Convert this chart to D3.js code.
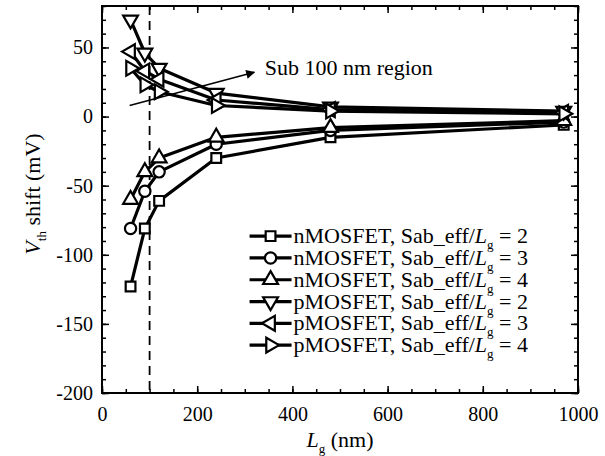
<!DOCTYPE html>
<html>
<head>
<meta charset="utf-8">
<script src="https://cdn.jsdelivr.net/npm/d3@7"></script>
<style>
  body { margin: 0; background: #fff; }
  svg text { font-family: "Liberation Serif", "Times New Roman", serif !important; fill: #000; }
</style>
</head>
<body>
<div id="chart"></div>
<script>
const lengths = [60, 90, 120, 240, 480, 970];
const seriesNames = ['nMOSFET', 'nMOSFET', 'nMOSFET', 'pMOSFET', 'pMOSFET', 'pMOSFET'];
const seriesRatios = [2, 3, 4, 2, 3, 4];
const nRatio2 = [-123, -81, -61, -30, -15, -6];
const nRatio3 = [-81, -54, -40, -20, -10, -4];
const nRatio4 = [-60, -40, -30, -15, -8, -3];
const pRatio2 = [70, 46, 35, 17, 7, 4];
const pRatio3 = [47, 33, 27, 12, 5, 3];
const pRatio4 = [35, 23, 18, 8, 4, 2];
const xTickLabels = [0, 200, 400, 600, 800, 1000];
const yTickLabels = [-200, -150, -100, -50, 0, 50];

let
  width = 605,
  height = 456,
  margin = {left: 102, top: 6, right: 27, bottom: 63},
  w = width - margin.left - margin.right,
  h = height - margin.top - margin.bottom
;

let series = [nRatio2, nRatio3, nRatio4, pRatio2, pRatio3, pRatio4];
// shape + rotation for each series marker
let markers = [
  {type: d3.symbolSquare, size: 95, rot: 0},
  {type: d3.symbolCircle, size: 100, rot: 0},
  {type: d3.symbolTriangle, size: 95, rot: 0},
  {type: d3.symbolTriangle, size: 95, rot: 180},
  {type: d3.symbolTriangle, size: 95, rot: -90},
  {type: d3.symbolTriangle, size: 95, rot: 90}
];

let svg = d3.select('#chart').append('svg')
  .attr('width', width)
  .attr('height', height);

let g = svg.append('g').attr('transform', `translate(${margin.left},${margin.top})`);

let x = d3.scaleLinear().domain([0, 1000]).range([0, w]);
let y = d3.scaleLinear().domain([-200, 80]).range([h, 0]);

/*axes*/
let xMinor = d3.range(0, 1001, 50);
let yMinor = d3.range(-200, 81, 10);

let axisStyle = (sel) => {
  sel.select('.domain').remove();
  sel.selectAll('line').attr('stroke', '#000').attr('stroke-width', 1.5);
};

g.append('g').attr('transform', `translate(0,${h})`)
  .call(d3.axisBottom(x).tickValues(xMinor).tickSize(-4).tickFormat(''))
  .call(axisStyle);
g.append('g').attr('transform', `translate(0,${h})`)
  .call(d3.axisBottom(x).tickValues(xTickLabels).tickSize(-7).tickPadding(14).tickFormat(d => d))
  .call(axisStyle)
  .selectAll('text').style('font-size', '20px');
g.append('g')
  .call(d3.axisTop(x).tickValues(xMinor).tickSize(-4).tickFormat(''))
  .call(axisStyle);
g.append('g')
  .call(d3.axisTop(x).tickValues(xTickLabels).tickSize(-7).tickFormat(''))
  .call(axisStyle);

g.append('g')
  .call(d3.axisLeft(y).tickValues(yMinor).tickSize(-4).tickFormat(''))
  .call(axisStyle);
g.append('g')
  .call(d3.axisLeft(y).tickValues(yTickLabels).tickSize(-7).tickPadding(9).tickFormat(d => d))
  .call(axisStyle)
  .selectAll('text').style('font-size', '20px');
g.append('g').attr('transform', `translate(${w},0)`)
  .call(d3.axisRight(y).tickValues(yMinor).tickSize(-4).tickFormat(''))
  .call(axisStyle);
g.append('g').attr('transform', `translate(${w},0)`)
  .call(d3.axisRight(y).tickValues(yTickLabels).tickSize(-7).tickFormat(''))
  .call(axisStyle);

g.append('rect')
  .attr('width', w).attr('height', h)
  .attr('fill', 'none').attr('stroke', '#000').attr('stroke-width', 2);

/*dashed line at 100 nm*/
g.append('line')
  .attr('x1', x(100)).attr('x2', x(100))
  .attr('y1', 0).attr('y2', h)
  .attr('stroke', '#000').attr('stroke-width', 1.8)
  .attr('stroke-dasharray', '9,6');

/*series*/
let line = d3.line().x((d, i) => x(lengths[i])).y(d => y(d));

series.forEach((vals, k) => {
  g.append('path')
    .datum(vals)
    .attr('d', line)
    .attr('fill', 'none')
    .attr('stroke', '#000')
    .attr('stroke-width', 3.2)
    .attr('stroke-linejoin', 'round');
});

series.forEach((vals, k) => {
  let m = markers[k];
  g.selectAll(null)
    .data(vals)
    .enter()
    .append('path')
    .attr('d', d3.symbol().type(m.type).size(m.size))
    .attr('transform', (d, i) => `translate(${x(lengths[i])},${y(d)}) rotate(${m.rot})`)
    .attr('fill', '#fff')
    .attr('stroke', '#000')
    .attr('stroke-width', 2.2);
});

/*arrow annotation*/
svg.append('defs').append('marker')
  .attr('id', 'head')
  .attr('viewBox', '0 0 10 10')
  .attr('refX', 9).attr('refY', 5)
  .attr('markerWidth', 12).attr('markerHeight', 9)
  .attr('markerUnits', 'userSpaceOnUse')
  .attr('orient', 'auto')
  .append('path')
  .attr('d', 'M0,0 L10,5 L0,10 Z')
  .attr('fill', '#000');

g.append('line')
  .attr('x1', x(58)).attr('y1', y(8))
  .attr('x2', x(320)).attr('y2', y(32))
  .attr('stroke', '#000').attr('stroke-width', 1.5)
  .attr('marker-end', 'url(#head)');

g.append('text')
  .attr('x', x(342)).attr('y', y(30))
  .style('font-size', '22px')
  .text('Sub 100 nm region');

/*legend*/
let legend = g.append('g').attr('transform', `translate(${x(310)},${y(-86.5)})`);
let rowH = 21.8;

seriesNames.forEach((name, k) => {
  let m = markers[k];
  let row = legend.append('g').attr('transform', `translate(0,${k * rowH})`);
  row.append('line')
    .attr('x1', 0).attr('x2', 42)
    .attr('stroke', '#000').attr('stroke-width', 3.2);
  row.append('path')
    .attr('d', d3.symbol().type(m.type).size(m.size))
    .attr('transform', `translate(21,0) rotate(${m.rot})`)
    .attr('fill', '#fff').attr('stroke', '#000').attr('stroke-width', 2.2);
  let t = row.append('text')
    .attr('x', 44).attr('y', 7)
    .style('font-size', '22px');
  t.append('tspan').text(`${name}, Sab_eff/`);
  t.append('tspan').style('font-style', 'italic').text('L');
  t.append('tspan').attr('dy', 6).style('font-size', '13px').text('g');
  t.append('tspan').attr('dy', -6).text(` = ${seriesRatios[k]}`);
});

/*axis titles*/
let xt = g.append('text')
  .attr('x', w / 2).attr('y', h + 54)
  .attr('text-anchor', 'middle')
  .style('font-size', '22px');
xt.append('tspan').style('font-style', 'italic').text('L');
xt.append('tspan').attr('dy', 6).style('font-size', '13px').text('g');
xt.append('tspan').attr('dy', -6).text(' (nm)');

let yt = svg.append('text')
  .attr('transform', `translate(40,${margin.top + y(-56)}) rotate(-90)`)
  .attr('text-anchor', 'middle')
  .style('font-size', '22px');
yt.append('tspan').style('font-style', 'italic').text('V');
yt.append('tspan').attr('dy', 6).style('font-size', '13px').text('th');
yt.append('tspan').attr('dy', -6).text(' shift (mV)');
</script>
</body>
</html>
